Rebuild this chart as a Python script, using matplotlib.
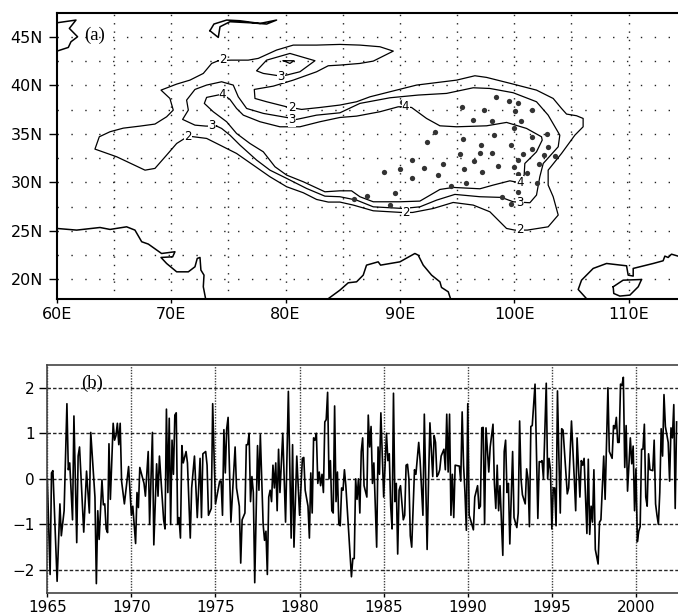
"""
Panel (a): mapa con contornos y estaciones. Panel (b): serie mensual 1965-2002.
"""

import numpy as np
import matplotlib
matplotlib.use("Agg")
import matplotlib.pyplot as plt

plt.rcParams.update({"figure.dpi": 100, "font.family": "DejaVu Sans"})

# -- Costas --
caspian_lon = [60, 61.66, 61.08, 61.8, 61.22, 60.99, 60]
caspian_lat = [46.44, 46.72, 45.86, 45, 44.48, 43.9, 43.52]
aral_lon = [73.38, 73.73, 74.84, 76.0, 77.76, 79.21, 78.34, 76.88, 75.13, 74.26, 74.11, 73.38]
aral_lat = [45.62, 46.31, 46.72, 46.65, 46.37, 46.72, 46.31, 46.44, 46.55, 46.03, 44.93, 45.62]
west_lon = [60, 61.72, 63.76, 64.64, 66.09, 66.82, 67.41, 67.99, 69.15, 70.32, 70.12, 69.1,
            69.59, 70.47, 71.49, 72.07, 72.27, 72.51, 72.59, 72.86, 72.8, 73.0]
west_lat = [25.24, 25.07, 25.34, 25.14, 25.41, 25.07, 23.87, 23.63, 22.66, 22.84, 22.32, 22.25,
            21.63, 20.77, 20.77, 21.29, 22.15, 22.25, 20.95, 20.43, 19.23, 18.0]
bengal_lon = [83.73, 84.75, 85.48, 86.21, 86.79, 87.08, 88.1, 88.31, 90, 91.31, 91.6, 92.04,
              92.77, 93.5, 93.64, 94.23, 94.43]
bengal_lat = [18, 18.88, 19.64, 19.74, 20.43, 21.46, 21.8, 21.46, 21.8, 22.66, 22.49, 21.46,
              20.43, 19.74, 19.16, 18.71, 18]
china_lon = [106.33, 105.6, 105.89, 106.91, 108.08, 109.83, 109.97, 110.41, 110.41, 112.16,
             113.03, 113.18, 113.47, 113.76, 114.33]
china_lat = [18, 18.95, 19.91, 21.12, 21.63, 21.39, 20.43, 20.33, 21.12, 21.63,
             21.91, 22.39, 22.25, 22.59, 22.39]
hainan_lon = [108.66, 109.53, 111.14, 110.85, 110.12, 109.24, 108.71, 108.66]
hainan_lat = [19.23, 19.91, 19.98, 19.23, 18.37, 18.27, 18.54, 19.23]

# -- Contornos --
c2_lon = [74.11, 73.53, 72.8, 71.63, 70.47, 69.1, 69.88, 70.17, 69.59, 68.57, 67.26, 65.8, 64.64,
          63.7, 63.32, 65.22, 67.7, 68.57, 69.59, 70.47, 71.49, 73.09, 74.26, 75.71, 77.17, 78.63,
          80.09, 81.55, 82.71, 83.73, 84.75, 85.92, 87.67, 90.15, 91.11, 92.92, 94.66, 96.41,
          97.87, 99.33, 100.06, 101.14, 102.97, 103.85, 103.41, 102.97, 102.97, 104.14, 105.31,
          106.03, 106.03, 105.45, 104.58, 104.14, 103.41, 101.95, 99.91, 97.58, 96.56, 94.96,
          91.46, 89.13, 87.38, 86.21, 84.75, 83.0, 81.4, 80.09, 78.34, 77.32, 77.26, 78.92, 80.67,
          82.71, 83.73, 84.75, 86.5, 87.67, 89.42, 88.25, 86.5, 84.75, 82.71, 80.67, 79.21, 77.61,
          76.73, 75.22, 74.11]
c2_lat = [42.53, 42.25, 41.22, 40.53, 40.12, 39.5, 38.64, 37.44, 36.75, 36.0, 35.79, 35.58, 35.21,
          34.69, 33.42, 32.63, 31.25, 31.43, 32.8, 34.0, 34.76, 34.52, 33.83, 32.97, 31.77, 30.57,
          29.54, 28.92, 28.23, 27.96, 27.96, 27.65, 27.06, 26.89, 26.89, 27.3, 27.92, 27.65,
          26.96, 25.24, 25.07, 25.07, 25.41, 26.62, 28.51, 29.71, 31.25, 32.97, 34.86,
          35.72, 36.58, 36.86, 37.03, 37.61, 38.64, 39.5, 40.12, 40.81, 40.98, 40.53,
          40.02, 39.33, 38.81, 38.3, 37.96, 37.71, 37.51, 37.78, 38.3, 38.64, 39.57, 39.91, 40.53,
          41.39, 42.01, 42.08, 42.25, 42.49, 43.52, 43.97, 44.14, 44.21, 44.14, 44.14, 43.63, 42.77,
          42.59, 42.59, 42.53]
c3_lon = [73.97, 73.03, 72.07, 70.99, 71.49, 71.34, 72.07, 73.09, 74.4, 75.42, 75.86, 76.59, 78.05,
          80.09, 80.96, 82.71, 84.75, 86.5, 89.13, 91.6, 94.08, 96.41, 97.87, 99.91, 101.95,
          102.97, 103.99, 103.85, 102.54, 102.24, 101.95, 101.37, 99.91, 98.89, 97.0, 94.81,
          93.21, 91.75, 90.29, 87.67, 86.21, 84.75, 83.44, 81.84, 80.09, 78.63, 77.46, 76.01,
          75.13, 74.4, 73.97]
c3_lat = [35.79, 35.79, 35.89, 36.48, 37.44, 38.47, 39.57, 40.02, 40.36, 40.02, 38.81, 37.61, 37.1,
          36.68, 36.48, 36.92, 37.16, 38.13, 38.71, 38.99, 39.16, 39.74, 39.67, 39.23, 38.3,
          36.92, 34.86, 33.66, 31.94, 30.57, 28.68, 27.89, 27.99, 28.44, 28.51, 28.75,
          28.16, 27.47, 27.3, 27.47, 28.16, 28.51, 28.57, 29.36, 30.4, 31.25, 32.29, 33.83,
          34.86, 35.55, 35.79]
c4_lon = [74.49, 73.09, 72.89, 73.67, 74.84, 75.71, 76.88, 78.05, 79.07, 80.09, 81.55, 83.44, 84.75,
          85.77, 86.5, 87.67, 90.0, 91.75, 93.5, 94.66, 97.0, 98.16, 99.62, 100.5, 100.87, 100.93,
          101.95, 102.45, 102.39, 101.08, 99.33, 97.58, 94.96, 93.5, 92.33, 91.02, 90.5, 89.85,
          88.25, 86.21, 84.75, 83.0, 81.25, 79.5, 77.76, 76.3, 75.71, 75.13, 74.49]
c4_lat = [39.09, 38.75, 38.13, 37.27, 36.24, 35.03, 34, 33.14, 31.6, 30.74, 30.05, 29.02, 29.12,
          29.12, 28.51, 27.99, 27.99, 28.06, 29.26, 29.47, 29.33, 29.71, 30.15, 29.95, 30.74, 31.94,
          33.14, 34.35, 34.69, 35.55, 36.17, 35.82, 35.72, 35.82, 36.58, 37.71, 37.78, 37.78,
          37.27, 36.82, 36.68, 36.24, 35.72, 35.72, 36.24, 36.92, 37.61, 38.54, 39.09]
north3_lon = [79.56, 78.05, 77.46, 78.34, 80.38, 82.57, 81.25, 80.09, 79.56]
north3_lat = [40.95, 41.22, 41.49, 42.59, 43.28, 42.53, 41.39, 41.05, 40.95]
north4_lon = [79.8, 80.73, 80.38, 79.8]
north4_lat = [42.53, 42.53, 42.25, 42.53]

label_text = ["2", "2", "3", "4", "3", "2", "3", "4", "2", "4", "3", "2"]
label_lon = [74.49, 71.49, 73.53, 74.49, 79.56, 80.52, 80.52, 90.5, 90.5, 100.5, 100.5, 100.5]
label_lat = [42.66, 34.76, 35.89, 39.09, 40.95, 37.75, 36.45, 37.78, 26.89, 29.95, 27.89, 25.14]

# -- Estaciones --
station_lon = [98.4, 99.56, 100.29, 95.39, 97.38, 100.09, 101.57, 90.15, 96.41, 98.08, 100.58, 99.97,
               93.06, 98.19, 102.89, 101.57, 95.51, 92.39, 97.08, 99.71, 103.0, 101.52, 95.28, 97.0,
               98.08, 100.79, 102.59, 103.59, 91.08, 96.5, 100.29, 93.79, 102.19, 98.6, 100.0, 92.1,
               90.0, 95.6, 88.6, 97.2, 100.29, 101.08, 93.29, 91.08, 94.49, 95.77, 102.01, 100.29,
               89.59, 87.11, 85.98, 98.89, 99.71, 89.1]
station_lat = [38.78, 38.4, 38.16, 37.78, 37.41, 37.3, 37.41, 38.26, 36.37, 36.31, 36.31, 35.62,
               35.17, 34.9, 34.97, 34.69, 34.48, 34.18, 33.8, 33.8, 33.59, 33.38, 32.9, 32.97,
               32.97, 32.9, 32.77, 32.66, 32.29, 32.18, 32.29, 31.91, 31.91, 31.7, 31.6, 31.5,
               31.36, 31.39, 31.01, 31.08, 30.88, 30.98, 30.7, 30.46, 29.57, 29.88, 29.95, 28.99,
               28.88, 28.57, 28.23, 28.47, 27.78, 27.65]

# -- Serie (meses desde enero 1965) --
months = [0, 2, 3, 4, 7, 9, 10, 12, 14, 15, 16, 18, 19, 21, 22, 23, 26, 28, 30, 31,
          34, 35, 36, 37, 39, 40, 41, 42, 43, 44, 45, 47, 48, 49, 50, 51, 52, 53, 55, 58,
          60, 61, 63, 64, 65, 66, 69, 70, 72, 73, 75, 76, 78, 79, 80, 83, 84, 85, 86, 87,
          88, 89, 90, 91, 92, 93, 94, 95, 96, 97, 99, 100, 102, 103, 105, 107, 109, 110, 111, 113,
          114, 115, 117, 118, 119, 120, 123, 124, 125, 126, 127, 128, 129, 131, 134, 135, 136,
          137, 138, 139, 141, 142, 143, 144, 145, 146, 147, 148, 150, 151, 152, 154, 155, 156, 157, 158, 159,
          160, 161, 162, 163, 164, 165, 166, 168, 170, 172, 174, 175, 176, 178, 180, 182, 183, 184, 186, 187,
          188, 189, 190, 191, 192, 193, 194, 195, 196, 197, 198, 199, 200, 201, 202, 203, 204, 205, 206, 207,
          208, 209, 210, 211, 212, 213, 215, 217, 218, 219, 220, 221, 222, 223, 224, 225, 226, 228, 229, 230,
          231, 232, 233, 235, 236, 237, 238, 240, 242, 243, 244, 245, 246, 247, 248, 249, 250, 251, 252, 254,
          255, 256, 257, 258, 259, 260, 262, 263, 265, 266, 268, 269, 271, 272, 273, 275, 276, 277, 278, 279,
          280, 281, 283, 284, 285, 286, 287, 288, 289, 290, 291, 294, 295, 296, 297, 298, 299, 300, 301, 302,
          304, 305, 307, 308, 309, 310, 311, 312, 313, 315, 316, 318, 319, 320, 321, 322, 323, 325, 326, 327,
          328, 329, 330, 332, 333, 335, 336, 337, 338, 339, 341, 342, 343, 344, 345, 346, 348, 350, 351, 352,
          353, 354, 356, 357, 358, 359, 360, 361, 362, 363, 364, 365, 366, 367, 368, 371, 372, 374, 376, 377,
          378, 380, 381, 382, 383, 385, 386, 387, 388, 389, 390, 391, 393, 394, 395, 397, 398, 400, 401, 403,
          404, 405, 406, 407, 408, 409, 410, 411, 412, 413, 414, 416, 417, 418, 419, 420, 421, 422, 423, 424,
          425, 426, 427, 428, 429, 430, 432, 433, 434, 435, 436, 437, 438, 439, 440, 441, 443, 444, 445, 446,
          447, 448, 449]
values = [0, -2.1, .13, .18, -2.25, -.55, -1.25, -.7, 1.65, .2, .35, -.9, 1.38, -1.4, .5, .7, -1.17, .17, -.75, 1.02,
          -.4, -2.3, -.7, -1.33, -.02, -.57, -.55, -1.1, -1.18, .77, -.45, 1.22, .85, .95, 1.22, .75, 1.22, -.05, -.55, .27,
          -.8, -.6, -1.42, -.3, -.63, .25, -.1, -.38, .6, -1.0, 1.02, -1.45, .33, -.38, .5, -.9, -1.1, 1.53, -.3, 1.33,
          -1.0, .85, .1, 1.4, 1.45, -1.0, -.85, -1.3, .73, .35, .6, .35, -1.3, -.2, .5, -.85, .45, -.85, .55, .6,
          .3, -.8, -.65, 1.65, .5, -.55, -.05, -.05, -.8, 1.08, .13, 1.1, 1.35, -.95, .7, -.2, -.4,
          -.6, -1.85, -.9, -.75, .75, .75, 1.0, -.5, .05, -.3, -2.28, .73, -.25, .97, -1.0, -1.35, -1.15, -2.1, -.4, -.25,
          -.5, .3, -.2, .35, -.7, .65, -.3, 1.0, -.95, 1.92, -1.3, .75, -1.5, .5, -.8, .45, .47, -.25, -.6, -1.3,
          .13, -.75, .9, .85, 1.0, -.1, .15, -.15, .1, -.3, 1.25, 1.3, 1.9, 0, .4, -.7, -.75, 1.6, -.5, .15,
          -1.0, -1.03, -.2, -.25, .2, -.15, -1.15, -2.15, -1.75, -1.75, 0, -.45, 0, -.75, .6, .9, -.15, -.4, 1.4, .7,
          1.15, -.1, .35, -1.5, .7, .1, 1.45, -.4, 1.0, .4, .55, -.6, -1.1, 1.88, -.5, -.1, -1.65, -.25, -.15, -.9,
          -.8, .3, .32, 0, -1.25, -1.5, .2, .1, .8, .4, -.8, 1.42, -1.55, -.05, 1.23, .05, .95, .8, .05, .1,
          .2, .5, .65, .2, 1.42, .15, 1.42, -.8, .1, -.85, .3, .28, -.05, 1.47, .3, -.3, -1.13, 1.65, -.8, -.9,
          -1.12, -.4, -.15, -.65, -.6, 1.12, 1.13, -1.0, 1.12, .15, .7, 1.2, -.1, -.65, .3, -.7, -.15, -1.68, .6, .85,
          -.3, -.1, -1.43, .6, -.85, -1.07, -.75, 1.27, 0, -.35, -.55, .22, 0, -1.05, 1.15, 1.17, 2.08, -.87, .38, .37,
          .4, 0, 2.1, 0, .45, .2, -1.1, -.2, -.2, -1.03, 1.93, .5, -.75, 1.1, 1.07, -.33, -.2, 1.27, 0, -.7,
          .9, -.4, .4, .3, .45, -1.2, .43, -1.22, -.6, -.95, .2, -1.55, -1.87, -.95, -.9, .5, -.45, 2.0, .6, .45,
          1.17, 1.1, 1.35, .8, .8, 2.08, 2.05, 2.23, .25, 1.17, -.27, .9, .33, .72, -.7, .22, -1.38, -1.15, -1.05, .65,
          .65, 1.2, -.4, -.6, .55, .2, .18, .85, -.55, -.8, -1.0, -.3, 1.1, .5, 1.85, 1.15, .8, -.05, 1.12, .9,
          1.63, -.65, 1.25]

map_xticks = [60, 70, 80, 90, 100, 110]
map_xlabels = ["60E", "70E", "80E", "90E", "100E", "110E"]
map_yticks = [20, 25, 30, 35, 40, 45]
map_ylabels = ["20N", "25N", "30N", "35N", "40N", "45N"]
year_ticks = [1965, 1970, 1975, 1980, 1985, 1990, 1995, 2000]
series_ticks = [-2, -1, 0, 1, 2]
series_labels = ["\u22122", "\u22121", "0", "1", "2"]

W, H = 678, 613
fig = plt.figure(figsize=(W / 100, H / 100), facecolor="white")

# === Mapa ===
ax1 = fig.add_axes([57 / W, 1 - 298.7 / H, 621 / W, 286.2 / H])
ax1.set_xlim(60, 114.33)
ax1.set_ylim(18, 47.5)
for x in np.arange(65, 114, 5):
    ax1.axvline(x, color="#222222", linewidth=1, linestyle=(0, (1, 5)), zorder=1)
for y in np.arange(20, 47, 2.5):
    ax1.axhline(y, color="#222222", linewidth=1, linestyle=(0, (1, 9)), zorder=1)

for lon, lat in [(caspian_lon, caspian_lat), (aral_lon, aral_lat), (west_lon, west_lat),
                 (bengal_lon, bengal_lat), (china_lon, china_lat), (hainan_lon, hainan_lat)]:
    ax1.plot(lon, lat, color="black", linewidth=1.1, zorder=2)
for lon, lat in [(c2_lon, c2_lat), (c3_lon, c3_lat), (c4_lon, c4_lat),
                 (north3_lon, north3_lat), (north4_lon, north4_lat)]:
    ax1.plot(lon, lat, color="black", linewidth=0.9, zorder=2)
ax1.plot(station_lon, station_lat, "o", color="#333333", markersize=3.8,
         markeredgewidth=0, zorder=3)
for txt, lon, lat in zip(label_text, label_lon, label_lat):
    ax1.text(lon, lat, txt, ha="center", va="center", fontsize=8.5, zorder=4,
             bbox=dict(boxstyle="square,pad=0.03", facecolor="white", edgecolor="none"))

ax1.set_xticks(map_xticks)
ax1.set_xticklabels(map_xlabels, fontsize=11.5)
ax1.set_yticks(map_yticks)
ax1.set_yticklabels(map_ylabels, fontsize=11.5)
ax1.tick_params(axis="x", length=3, width=1, pad=3)
ax1.tick_params(axis="y", length=6, width=1, pad=4)
for s in ax1.spines.values():
    s.set_linewidth(1.5)
ax1.spines["right"].set_visible(False)
fig.text(84 / W, 1 - 35 / H, "(a)", family="Liberation Serif", fontsize=13.5,
         ha="left", va="center")

# === Serie ===
years = 1965 + np.array(months) / 12
ax2 = fig.add_axes([47.3 / W, 1 - 592.7 / H, 630.7 / W, 227.7 / H])
ax2.set_xlim(1965, 2002.5)
ax2.set_ylim(-2.5, 2.5)
ax2.grid(True, axis="y", color="black", linewidth=1, linestyle=(0, (2.5, 1.5)), alpha=0.85, zorder=1)
ax2.grid(True, axis="x", color="black", linewidth=1, linestyle=(0, (1, 1)), alpha=0.75, zorder=1)
ax2.plot(years, values, color="black", linewidth=1.2, zorder=2)
ax2.set_xticks(year_ticks)
ax2.set_xticklabels([str(y) for y in year_ticks], fontsize=11)
ax2.set_yticks(series_ticks)
ax2.set_yticklabels(series_labels, fontsize=11)
ax2.tick_params(axis="x", length=3, width=1, pad=2)
ax2.tick_params(axis="y", length=6, width=1, pad=3)
for s in ax2.spines.values():
    s.set_linewidth(1.2)
    s.set_color("#444444")
ax2.spines["right"].set_visible(False)
fig.text(81 / W, 1 - 383 / H, "(b)", family="Liberation Serif", fontsize=13.5,
         ha="left", va="center")

fig.savefig("out.png", dpi=100)
